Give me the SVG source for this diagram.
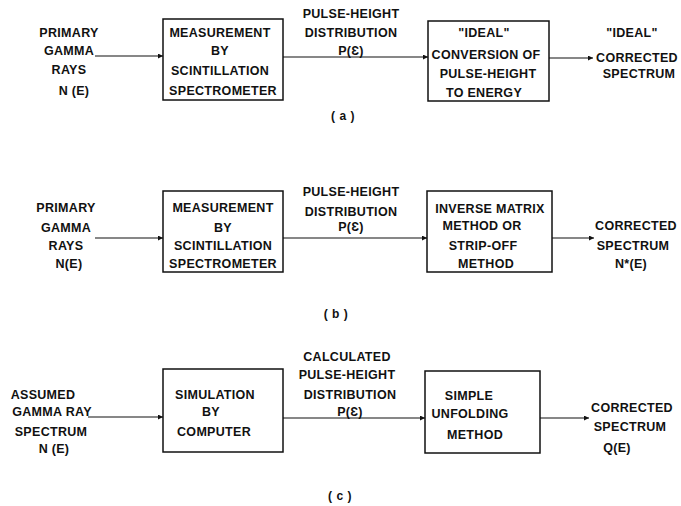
<svg xmlns="http://www.w3.org/2000/svg" width="681" height="506" viewBox="0 0 681 506">
<style>
text{font-family:"Liberation Sans",Arial,sans-serif;font-weight:bold;font-size:12.5px;fill:#111;text-anchor:middle;letter-spacing:0.3px}
.box{fill:none;stroke:#111;stroke-width:1.5}
.ln{stroke:#111;stroke-width:1.2;fill:none;marker-end:url(#ah)}
.cap{font-size:12px;letter-spacing:0.5px}
</style>
<defs>
<marker id="ah" viewBox="0 0 10 10" refX="10" refY="5" markerWidth="6" markerHeight="5" markerUnits="userSpaceOnUse" orient="auto">
<path d="M0,0 L10,5 L0,10 z" fill="#111"/>
</marker>
</defs>
<rect width="681" height="506" fill="#fff"/>
<g id="connectors">
<line class="ln" x1="95" y1="56" x2="163" y2="56"/>
<line class="ln" x1="283" y1="57" x2="428" y2="57"/>
<line class="ln" x1="549" y1="58" x2="593" y2="58"/>
<line class="ln" x1="95" y1="238" x2="163" y2="238"/>
<line class="ln" x1="283" y1="238" x2="427" y2="238"/>
<line class="ln" x1="552" y1="238" x2="594" y2="238"/>
<line class="ln" x1="88" y1="417" x2="163" y2="417"/>
<line class="ln" x1="283" y1="418" x2="425" y2="418"/>
<line class="ln" x1="540" y1="418" x2="589" y2="418"/>
</g>
<g id="a-input"><text x="69" y="37">PRIMARY</text><text x="69" y="55">GAMMA</text><text x="69" y="74">RAYS</text><text x="74" y="95">N (E)</text></g>
<g id="a-measure"><rect class="box" x="163" y="19" width="120" height="81"/><text x="220" y="37">MEASUREMENT</text><text x="220" y="55">BY</text><text x="220" y="75">SCINTILLATION</text><text x="223" y="95">SPECTROMETER</text></g>
<g id="a-phd"><text x="351" y="18">PULSE-HEIGHT</text><text x="351" y="37">DISTRIBUTION</text><text x="351" y="55">P(Ɛ)</text></g>
<g id="a-ideal"><rect class="box" x="428" y="21" width="121" height="80"/><text x="484" y="37">"IDEAL"</text><text x="486" y="59">CONVERSION OF</text><text x="488" y="78">PULSE-HEIGHT</text><text x="484" y="97">TO ENERGY</text></g>
<g id="a-output"><text x="632" y="37">"IDEAL"</text><text x="637" y="62">CORRECTED</text><text x="639" y="78">SPECTRUM</text></g>
<text class="cap" x="343" y="120">( a )</text>
<g id="b-input"><text x="66" y="212">PRIMARY</text><text x="66" y="232">GAMMA</text><text x="66" y="250">RAYS</text><text x="69" y="268">N(E)</text></g>
<g id="b-measure"><rect class="box" x="163" y="191" width="120" height="81"/><text x="223" y="212">MEASUREMENT</text><text x="223" y="232">BY</text><text x="223" y="250">SCINTILLATION</text><text x="223" y="268">SPECTROMETER</text></g>
<g id="b-phd"><text x="351" y="196">PULSE-HEIGHT</text><text x="351" y="216">DISTRIBUTION</text><text x="351" y="231">P(Ɛ)</text></g>
<g id="b-inverse"><rect class="box" x="427" y="191" width="125" height="81"/><text x="490" y="213">INVERSE MATRIX</text><text x="482" y="230">METHOD OR</text><text x="483" y="250">STRIP-OFF</text><text x="486" y="268">METHOD</text></g>
<g id="b-output"><text x="636" y="230">CORRECTED</text><text x="633" y="250">SPECTRUM</text><text x="631" y="268">N*(E)</text></g>
<text class="cap" x="336" y="318">( b )</text>
<g id="c-input"><text x="43" y="399">ASSUMED</text><text x="52" y="416">GAMMA RAY</text><text x="51" y="436">SPECTRUM</text><text x="54" y="453">N (E)</text></g>
<g id="c-sim"><rect class="box" x="163" y="369" width="120" height="83"/><text x="215" y="399">SIMULATION</text><text x="211" y="416">BY</text><text x="214" y="436">COMPUTER</text></g>
<g id="c-phd"><text x="347" y="361">CALCULATED</text><text x="347" y="379">PULSE-HEIGHT</text><text x="350" y="399">DISTRIBUTION</text><text x="350" y="416">P(Ɛ)</text></g>
<g id="c-unfold"><rect class="box" x="425" y="371" width="115" height="82"/><text x="469" y="400">SIMPLE</text><text x="470" y="418">UNFOLDING</text><text x="475" y="439">METHOD</text></g>
<g id="c-output"><text x="632" y="412">CORRECTED</text><text x="630" y="431">SPECTRUM</text><text x="617" y="452">Q(E)</text></g>
<text class="cap" x="340" y="500">( c )</text>
</svg>
